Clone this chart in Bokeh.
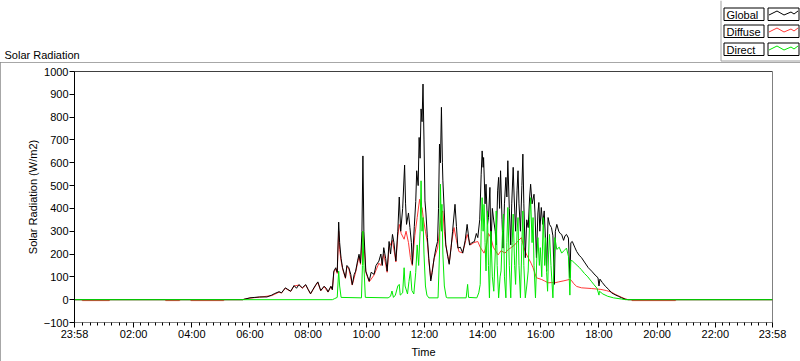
from bokeh.plotting import figure
from bokeh.models import FixedTicker, Span, Range1d
from bokeh.layouts import column
from bokeh.core.properties import value
from bokeh.embed import file_html
from bokeh.resources import INLINE

FONT = "Liberation Sans"

# ---------------- data (time "HH:MM", W/m2) ----------------
global_pts = [
    ("23:58", 0), ("05:45", 0), ("05:50", 3), ("06:00", 8), ("06:10", 10), ("06:20", 12), ("06:35", 12),
    ("06:45", 20), ("06:50", 26), ("07:00", 35), ("07:05", 30), ("07:13", 52), ("07:18", 45), ("07:24", 37),
    ("07:31", 62), ("07:36", 50), ("07:41", 66), ("07:48", 52), ("07:55", 66), ("08:00", 45), ("08:05", 26),
    ("08:10", 45), ("08:16", 66), ("08:20", 78), ("08:26", 40), ("08:33", 59), ("08:38", 48), ("08:41", 34),
    ("08:47", 59), ("08:50", 44), ("08:53", 125), ("08:57", 140), ("09:00", 120), ("09:03", 340), ("09:05", 250),
    ("09:08", 180), ("09:11", 140), ("09:17", 96), ("09:20", 150), ("09:24", 140), ("09:28", 110), ("09:31", 66),
    ("09:35", 110), ("09:38", 125), ("09:42", 170), ("09:45", 199), ("09:48", 160), ("09:51", 300), ("09:53", 630),
    ("09:55", 300), ("09:59", 125), ("10:03", 100), ("10:06", 81), ("10:10", 120), ("10:16", 111), ("10:20", 150),
    ("10:26", 169), ("10:30", 200), ("10:33", 150), ("10:36", 228), ("10:40", 180), ("10:43", 125), ("10:47", 255),
    ("10:50", 200), ("10:54", 286), ("10:57", 250), ("11:01", 170), ("11:05", 300), ("11:08", 450), ("11:11", 300),
    ("11:15", 400), ("11:19", 590), ("11:21", 420), ("11:23", 330), ("11:27", 380), ("11:30", 316), ("11:33", 250),
    ("11:35", 155), ("11:39", 320), ("11:42", 430), ("11:44", 565), ("11:47", 500), ("11:49", 711), ("11:51", 620),
    ("11:53", 836), ("11:55", 780), ("11:57", 945), ("11:59", 700), ("12:01", 433), ("12:03", 380), ("12:06", 272),
    ("12:09", 180), ("12:13", 82), ("12:16", 120), ("12:20", 184), ("12:24", 230), ("12:27", 255), ("12:29", 400),
    ("12:31", 682), ("12:33", 600), ("12:35", 843), ("12:37", 600), ("12:38", 521), ("12:41", 380), ("12:44", 240),
    ("12:48", 190), ("12:51", 155), ("12:55", 230), ("12:58", 300), ("13:03", 418), ("13:06", 320), ("13:09", 226),
    ("13:14", 230), ("13:19", 204), ("13:24", 260), ("13:28", 330), ("13:33", 240), ("13:38", 250), ("13:43", 255),
    ("13:47", 290), ("13:50", 272), ("13:54", 350), ("13:57", 550), ("13:59", 652), ("14:01", 580), ("14:02", 623),
    ("14:05", 420), ("14:07", 506), ("14:10", 330), ("14:12", 360), ("14:15", 492), ("14:17", 226), ("14:20", 400),
    ("14:23", 345), ("14:26", 300), ("14:28", 240), ("14:31", 480), ("14:33", 536), ("14:35", 400), ("14:37", 565),
    ("14:40", 350), ("14:42", 226), ("14:45", 420), ("14:48", 536), ("14:50", 450), ("14:52", 609), ("14:55", 400),
    ("14:58", 240), ("15:00", 420), ("15:03", 580), ("15:05", 450), ("15:08", 300), ("15:11", 480), ("15:13", 565),
    ("15:15", 420), ("15:18", 300), ("15:21", 500), ("15:23", 638), ("15:25", 420), ("15:28", 184), ("15:31", 350),
    ("15:34", 316), ("15:37", 450), ("15:39", 506), ("15:42", 420), ("15:46", 462), ("15:48", 380), ("15:51", 184),
    ("15:54", 380), ("15:56", 426), ("15:58", 300), ("16:01", 404), ("16:04", 330), ("16:07", 389), ("16:10", 250),
    ("16:12", 126), ("16:15", 360), ("16:18", 330), ("16:22", 316), ("16:25", 280), ("16:28", 67), ("16:30", 300),
    ("16:33", 330), ("16:37", 300), ("16:40", 290), ("16:43", 286), ("16:47", 260), ("16:50", 280), ("16:53", 286),
    ("16:57", 270), ("17:00", 96), ("17:02", 250), ("17:05", 255), ("17:10", 230), ("17:14", 211), ("17:19", 195),
    ("17:24", 184), ("17:30", 165), ("17:38", 140), ("17:45", 125), ("17:52", 108), ("17:58", 96), ("18:00", 60),
    ("18:02", 90), ("18:07", 75), ("18:13", 59), ("18:20", 45), ("18:26", 30), ("18:33", 22), ("18:40", 15),
    ("18:47", 8), ("18:54", 2), ("19:00", 0), ("23:58", 0),
]

diffuse_pts = [
    ("23:58", 0), ("00:13", 0), ("00:14", -4), ("01:10", -4), ("01:11", 0), ("03:05", 0), ("03:06", -4),
    ("03:35", -4), ("03:36", 0), ("03:57", 0), ("03:58", -4), ("05:06", -4), ("05:07", 0), ("05:45", 0),
    ("05:50", 3), ("06:00", 7), ("06:20", 11), ("06:45", 18), ("07:00", 33), ("07:05", 29), ("07:13", 50),
    ("07:24", 36), ("07:31", 60), ("07:41", 64), ("07:48", 50), ("07:55", 64), ("08:05", 25), ("08:16", 64),
    ("08:20", 75), ("08:26", 39), ("08:33", 57), ("08:41", 33), ("08:47", 57), ("08:50", 43), ("08:53", 120),
    ("08:57", 135), ("09:00", 115), ("09:03", 300), ("09:05", 220), ("09:08", 170), ("09:11", 135), ("09:17", 93),
    ("09:20", 145), ("09:24", 135), ("09:31", 64), ("09:38", 120), ("09:45", 190), ("09:48", 155), ("09:51", 250),
    ("09:53", 300), ("09:55", 250), ("09:59", 120), ("10:06", 78), ("10:16", 108), ("10:26", 160), ("10:30", 150),
    ("10:36", 200), ("10:43", 120), ("10:47", 230), ("10:54", 260), ("11:01", 165), ("11:05", 280), ("11:08", 330),
    ("11:12", 290), ("11:18", 265), ("11:22", 300), ("11:27", 250), ("11:31", 184), ("11:35", 150), ("11:40", 280),
    ("11:45", 360), ("11:50", 440), ("11:53", 400), ("11:55", 404), ("11:58", 350), ("12:02", 300), ("12:06", 250),
    ("12:09", 170), ("12:13", 90), ("12:20", 180), ("12:27", 226), ("12:31", 300), ("12:35", 380), ("12:38", 389),
    ("12:41", 300), ("12:44", 240), ("12:51", 160), ("12:56", 250), ("13:01", 316), ("13:06", 260), ("13:11", 211),
    ("13:18", 205), ("13:23", 240), ("13:28", 286), ("13:35", 240), ("13:42", 250), ("13:50", 255), ("13:55", 230),
    ("14:03", 204), ("14:08", 240), ("14:12", 290), ("14:17", 272), ("14:22", 230), ("14:28", 210), ("14:32", 196),
    ("14:38", 215), ("14:46", 204), ("14:53", 220), ("15:00", 230), ("15:06", 240), ("15:12", 255), ("15:20", 272),
    ("15:25", 230), ("15:30", 200), ("15:34", 184), ("15:40", 160), ("15:44", 140), ("15:48", 115), ("15:51", 96),
    ("16:01", 89), ("16:08", 82), ("16:15", 74), ("16:22", 75), ("16:29", 74), ("16:37", 78), ("16:46", 82),
    ("16:54", 86), ("17:00", 89), ("17:03", 85), ("17:08", 70), ("17:14", 58), ("17:24", 52), ("17:44", 49),
    ("18:04", 45), ("18:15", 40), ("18:25", 34), ("18:35", 22), ("18:46", 11), ("18:55", 3), ("19:00", 0),
    ("19:07", 0), ("19:08", -4), ("20:38", -4), ("20:39", 0), ("23:58", 0),
]

direct_pts = [
    ("23:58", 0), ("08:50", 0), ("08:55", 5), ("09:00", 10), ("09:03", 125), ("09:05", 60), ("09:08", 10),
    ("09:50", 8), ("09:52", 150), ("09:53", 300), ("09:55", 150), ("09:58", 10), ("10:45", 8), ("10:50", 15),
    ("10:53", 38), ("10:56", 10), ("11:00", 20), ("11:05", 60), ("11:08", 67), ("11:10", 20), ("11:15", 30),
    ("11:18", 140), ("11:20", 60), ("11:25", 25), ("11:28", 80), ("11:31", 126), ("11:34", 40), ("11:38", 25),
    ("11:42", 120), ("11:45", 240), ("11:48", 150), ("11:51", 300), ("11:53", 521), ("11:55", 300), ("11:57", 360),
    ("11:59", 200), ("12:02", 60), ("12:05", 20), ("12:09", 8), ("12:28", 8), ("12:31", 200), ("12:33", 506),
    ("12:35", 300), ("12:36", 418), ("12:38", 200), ("12:41", 60), ("12:45", 10), ("12:48", 8), ("13:26", 8),
    ("13:29", 67), ("13:31", 10), ("13:48", 8), ("13:52", 30), ("13:55", 67), ("13:57", 300), ("13:59", 447),
    ("14:01", 300), ("14:03", 418), ("14:05", 250), ("14:07", 126), ("14:10", 389), ("14:12", 150), ("14:14", 8),
    ("14:17", 300), ("14:20", 100), ("14:23", 37), ("14:26", 200), ("14:28", 389), ("14:30", 150), ("14:33", 8),
    ("14:36", 100), ("14:38", 126), ("14:41", 300), ("14:43", 375), ("14:45", 100), ("14:48", 8), ("14:50", 250),
    ("14:52", 404), ("14:55", 150), ("14:58", 8), ("15:01", 250), ("15:03", 375), ("15:06", 150), ("15:08", 67),
    ("15:11", 300), ("15:13", 360), ("15:15", 150), ("15:18", 8), ("15:21", 250), ("15:23", 389), ("15:25", 150),
    ("15:28", 8), ("15:31", 60), ("15:34", 126), ("15:37", 350), ("15:39", 447), ("15:42", 250), ("15:44", 360),
    ("15:46", 150), ("15:49", 8), ("15:52", 200), ("15:54", 272), ("15:57", 150), ("15:59", 228), ("16:02", 100),
    ("16:05", 360), ("16:08", 150), ("16:10", 272), ("16:12", 120), ("16:14", 37), ("16:16", 200), ("16:18", 286),
    ("16:21", 150), ("16:25", 8), ("16:27", 150), ("16:29", 272), ("16:33", 220), ("16:38", 230), ("16:43", 204),
    ("16:48", 215), ("16:53", 226), ("16:57", 190), ("17:00", 20), ("17:02", 172), ("17:05", 170), ("17:10", 160),
    ("17:15", 150), ("17:20", 140), ("17:23", 133), ("17:30", 115), ("17:37", 100), ("17:44", 81), ("17:50", 65),
    ("17:56", 50), ("18:00", 20), ("18:01", 37), ("18:08", 25), ("18:18", 15), ("18:30", 8), ("18:46", 3),
    ("18:55", 0), ("23:58", 0),
]

y_ticks = [-100, 0, 100, 200, 300, 400, 500, 600, 700, 800, 900, 1000]
x_tick_labels = ["23:58", "02:00", "04:00", "06:00", "08:00", "10:00", "12:00",
                 "14:00", "16:00", "18:00", "20:00", "22:00", "23:58"]
series_names = ["Global", "Diffuse", "Direct"]
series_colors = ["#000000", "#ff3838", "#00e800"]


def hhmm_to_minutes(labels):
    out = []
    for i, s in enumerate(labels):
        h, m = s.split(":")
        v = int(h) * 60 + int(m)
        if i == 0 and v > 1400:   # first "23:58" belongs to the previous day
            v -= 1440
        out.append(v)
    return out


x_ticks = hhmm_to_minutes(x_tick_labels)
x_minor = [m for m in range(15, 1440, 15) if m % 120 != 0]

# ---------------- header: title + legend ----------------
HW, HH = 800, 62
hdr = figure(width=HW, height=HH, x_range=Range1d(0, HW), y_range=Range1d(HH, 0), title=None,
             output_backend="svg", toolbar_location=None, min_border=0, frame_align=False,
             x_axis_location=None, y_axis_location=None, outline_line_color=None,
             background_fill_color="white", border_fill_color="white")
hdr.xgrid.visible = False
hdr.ygrid.visible = False

hdr.text(x=[4], y=[54], text=["Solar Radiation"], text_font=value(FONT), text_font_size=value("11px"),
         text_color="black", text_baseline="alphabetic", text_align="left")

# legend panel edges
hdr.line(x=[720.5, 720.5, 800], y=[0, 60.5, 60.5], line_color="#a0a0a0", line_width=1)

row_tops = [7.5, 24.5, 42.5]
box_h = 12.5
zig = [(1, 7), (9, 3), (16, 7), (23, 4), (26, 6), (30, 3)]
for k, top in enumerate(row_tops):
    hdr.quad(left=[723.5], right=[763.5], top=[top], bottom=[top + box_h],
             fill_alpha=0, line_color="black", line_width=1)
    hdr.quad(left=[767.5], right=[798.5], top=[top], bottom=[top + box_h],
             fill_alpha=0, line_color="black", line_width=1)
    hdr.text(x=[726], y=[top + box_h / 2 + 0.5], text=[series_names[k]], text_font=value(FONT),
             text_font_size=value("11px"), text_color="black", text_baseline="middle", text_align="left")
    hdr.line(x=[767.5 + a for a, _ in zig], y=[top + b for _, b in zig],
             line_color=series_colors[k], line_width=1)

# ---------------- main chart ----------------
MW, MH = 800, 299
p = figure(width=MW, height=MH, x_range=Range1d(x_ticks[0], x_ticks[-1]), y_range=Range1d(y_ticks[0], y_ticks[-1]),
           title=None, output_backend="svg", toolbar_location=None, frame_align=False,
           min_border_left=74, min_border_right=28, min_border_top=9, min_border_bottom=39,
           background_fill_color="white", border_fill_color="white",
           styles={"outline": "1px solid #8a8a8a", "outline-offset": "-1px"})
p.xgrid.visible = False
p.ygrid.visible = False
p.outline_line_color = "#808080"

xa = p.xaxis[0]
xa.ticker = FixedTicker(ticks=x_ticks, minor_ticks=x_minor)
xa.major_label_overrides = {t: s for t, s in zip(x_ticks, x_tick_labels)}
xa.major_tick_out = 5
xa.major_tick_in = 0
xa.minor_tick_out = 3
xa.minor_tick_in = 0
xa.axis_line_color = "#808080"
xa.major_tick_line_color = "black"
xa.minor_tick_line_color = "black"
xa.major_label_standoff = 0
xa.major_label_text_font = FONT
xa.major_label_text_font_size = "11px"
xa.major_label_text_color = "black"
xa.axis_label = "Time"
xa.axis_label_text_font = FONT
xa.axis_label_text_font_size = "11px"
xa.axis_label_text_font_style = "normal"
xa.axis_label_text_color = "black"
xa.axis_label_standoff = 3

ya = p.yaxis[0]
ya.ticker = FixedTicker(ticks=y_ticks, minor_ticks=[])
ya.major_tick_out = 5
ya.major_tick_in = 0
ya.minor_tick_out = 0
ya.minor_tick_in = 0
ya.axis_line_color = "black"
ya.major_tick_line_color = "black"
ya.major_label_standoff = 1
ya.major_label_text_font = FONT
ya.major_label_text_font_size = "11px"
ya.major_label_text_color = "black"
ya.axis_label = "Solar Radiation (W/m2)"
ya.axis_label_text_font = FONT
ya.axis_label_text_font_size = "11px"
ya.axis_label_text_font_style = "normal"
ya.axis_label_text_color = "black"
ya.axis_label_standoff = 2

p.add_layout(Span(location=y_ticks[-1], dimension="width", line_color="black", line_width=1))

# data lines (diffuse under global, direct on top)
all_pts = [global_pts, diffuse_pts, direct_pts]
for k in [1, 0, 2]:
    pts = all_pts[k]
    p.line(hhmm_to_minutes([t for t, _ in pts]), [v for _, v in pts],
           line_color=series_colors[k], line_width=1)

layout = column(hdr, p, spacing=0)
open("out.html", "w").write(file_html(layout, INLINE))
